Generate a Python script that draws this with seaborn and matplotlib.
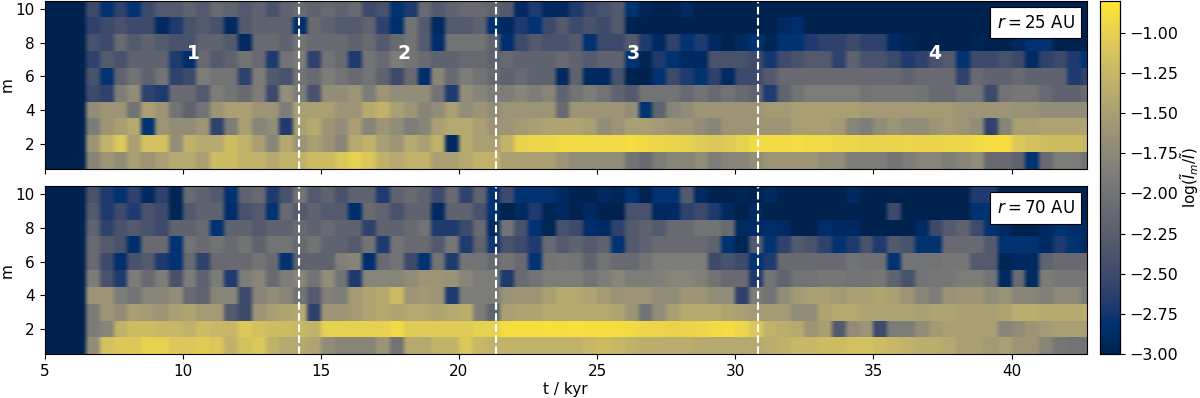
# mode amplitude maps, r=25 AU and r=70 AU
import numpy as np
import pandas as pd
import matplotlib
matplotlib.use("Agg")
import matplotlib.pyplot as plt
import seaborn as sns

t_start = 5.0
dt = 0.5
t_end = 42.73
modes = [1, 2, 3, 4, 5, 6, 7, 8, 9, 10]
x_ticks = [5, 10, 15, 20, 25, 30, 35, 40]
y_ticks = [2, 4, 6, 8, 10]
cbar_ticks = [-1.0, -1.25, -1.5, -1.75, -2.0, -2.25, -2.5, -2.75, -3.0]
phase_times = [14.22, 21.34, 30.82]
phase_labels = ["1", "2", "3", "4"]
phase_label_t = [10.4, 18.0, 26.3, 37.2]

# r = 25 AU, one list per m, 0.5 kyr steps
r25_m1 = [-3,-3,-3,-1.8,-1.6,-1.7,-1.5,-1.6,-1.5,-1.4,
          -1.4,-1.5,-1.2,-1.2,-1.3,-1.3,-1.4,-1.3,-1.3,-1.2,
          -1.2,-1.1,-1.0,-1.1,-1.3,-1.4,-1.3,-1.3,-1.5,-1.5,
          -1.4,-1.3,-1.3,-1.5,-1.5,-1.5,-1.5,-1.6,-1.7,-1.7,
          -1.7,-1.7,-2.0,-2.1,-1.9,-1.8,-1.8,-1.7,-1.9,-1.8,
          -1.8,-1.7,-1.6,-1.6,-1.6,-1.6,-1.7,-1.7,-1.9,-1.9,
          -1.9,-2.0,-1.9,-1.8,-1.8,-1.9,-1.8,-1.7,-2.1,-2.1,
          -2.2,-2.8,-2.1,-1.9,-1.9,-2.0]
r25_m2 = [-3,-3,-3,-1.6,-1.3,-1.1,-1.5,-1.15,-1.15,-1.7,
          -1.3,-1.4,-1.4,-1.2,-1.3,-1.5,-1.8,-1.4,-1.6,-1.5,
          -1.6,-1.8,-1.4,-1.3,-1.5,-1.6,-1.4,-1.5,-1.3,-2.9,
          -1.4,-1.5,-1.5,-1.3,-1.0,-0.95,-0.95,-0.92,-0.92,-0.92,
          -0.92,-0.92,-0.9,-0.93,-0.95,-0.97,-1.0,-1.05,-1.1,-1.05,
          -1.0,-0.92,-0.92,-0.92,-0.9,-0.92,-0.92,-0.95,-0.95,-0.97,
          -0.97,-0.97,-0.95,-0.97,-0.97,-0.95,-0.95,-0.92,-0.9,-0.88,
          -1.1,-1.15,-1.2,-1.2,-1.2,-1.25]
r25_m3 = [-3,-3,-3,-1.9,-1.6,-1.5,-1.4,-2.8,-1.6,-1.7,
          -1.7,-1.6,-2.6,-1.9,-1.5,-1.8,-1.7,-2.7,-1.5,-1.4,
          -1.6,-1.7,-1.5,-1.8,-1.6,-1.7,-1.9,-1.8,-1.5,-1.4,
          -1.4,-1.5,-1.6,-1.6,-1.55,-1.5,-1.45,-1.45,-1.45,-1.5,
          -1.7,-1.6,-1.5,-1.5,-1.55,-1.6,-1.6,-1.7,-1.8,-1.6,
          -1.6,-1.6,-1.6,-1.6,-1.5,-1.5,-1.5,-1.55,-1.8,-1.9,
          -1.7,-1.6,-1.7,-1.7,-1.6,-1.55,-1.6,-1.7,-2.6,-1.8,
          -1.5,-1.5,-1.45,-1.45,-1.45,-1.45]
r25_m4 = [-3,-3,-3,-1.7,-1.6,-1.6,-2.0,-1.5,-1.6,-2.0,
          -2.2,-2.0,-1.6,-1.5,-1.5,-1.6,-1.6,-1.9,-1.5,-1.5,
          -1.5,-1.6,-1.6,-1.4,-1.3,-1.5,-1.6,-1.8,-1.7,-1.5,
          -1.7,-1.6,-1.7,-1.6,-1.6,-1.6,-1.6,-2.1,-1.6,-1.6,
          -1.6,-1.6,-1.7,-2.8,-2.2,-1.8,-1.7,-1.6,-1.6,-1.6,
          -1.6,-1.6,-1.55,-1.55,-1.5,-1.5,-1.5,-1.5,-1.5,-1.55,
          -1.55,-1.55,-1.55,-1.55,-1.55,-1.55,-1.6,-1.6,-1.6,-1.6,
          -1.65,-1.65,-1.7,-1.7,-1.7,-1.7]
r25_m5 = [-3,-3,-3,-2.5,-2.6,-1.9,-1.7,-2.6,-2.7,-2.1,
          -2.1,-2.3,-1.9,-2.0,-2.1,-1.9,-2.5,-1.7,-1.9,-2.4,
          -1.7,-1.7,-1.6,-1.9,-1.6,-1.7,-1.7,-1.7,-2.0,-2.7,
          -1.7,-1.8,-1.9,-1.9,-1.8,-1.9,-1.8,-2.2,-2.0,-1.9,
          -2.0,-2.2,-2.3,-2.0,-2.0,-2.0,-2.1,-2.0,-2.1,-2.0,
          -2.1,-2.2,-2.7,-2.2,-2.0,-1.9,-1.9,-1.9,-1.9,-2.0,
          -1.95,-1.95,-1.95,-2.0,-2.1,-2.1,-2.0,-2.0,-2.5,-2.0,
          -1.95,-1.95,-2.1,-2.2,-2.2,-2.1]
r25_m6 = [-3,-3,-3,-2.4,-2.8,-2.2,-2.0,-2.2,-2.0,-2.6,
          -2.5,-1.9,-2.0,-2.0,-2.6,-1.9,-2.3,-2.4,-2.0,-2.1,
          -1.9,-2.0,-2.1,-2.0,-2.2,-2.5,-2.1,-2.85,-1.8,-2.1,
          -1.9,-2.0,-2.1,-2.2,-2.1,-2.2,-2.2,-2.9,-2.2,-2.9,
          -2.9,-2.4,-3,-3,-2.8,-2.5,-2.7,-2.8,-2.6,-2.9,
          -2.5,-2.5,-2.3,-2.1,-2.1,-2.1,-2.1,-2.1,-2.1,-2.1,
          -2.1,-2.1,-2.2,-2.1,-2.1,-2.1,-2.6,-2.1,-2.2,-2.2,
          -2.1,-2.2,-2.2,-2.2,-2.7,-2.6]
r25_m7 = [-3,-3,-3,-2.6,-2.3,-2.4,-2.2,-2.2,-2.2,-2.7,
          -2.85,-2.1,-2.3,-2.2,-2.0,-2.1,-2.7,-2.0,-1.9,-2.6,
          -2.0,-2.1,-2.7,-2.0,-2.1,-1.9,-2.0,-2.1,-2.2,-2.2,
          -2.1,-2.1,-2.2,-2.1,-2.2,-2.2,-2.2,-2.1,-2.2,-2.3,
          -2.2,-2.2,-2.8,-2.95,-2.7,-2.8,-2.9,-2.9,-2.4,-2.4,
          -2.4,-2.5,-2.75,-2.5,-2.4,-2.3,-2.3,-2.6,-2.2,-2.4,
          -2.4,-2.5,-2.7,-2.6,-2.4,-2.3,-2.8,-2.5,-2.5,-2.4,
          -2.5,-2.9,-2.6,-2.5,-2.7,-2.8]
r25_m8 = [-3,-3,-3,-2.4,-2.5,-2.1,-2.3,-2.2,-2.3,-2.4,
          -2.4,-2.2,-2.2,-2.3,-2.9,-2.1,-2.1,-2.2,-2.0,-2.1,
          -2.1,-2.1,-2.2,-2.1,-2.3,-2.1,-2.0,-2.3,-2.85,-2.0,
          -2.0,-2.0,-2.2,-2.85,-2.5,-2.3,-2.4,-2.4,-2.3,-2.8,
          -2.5,-2.5,-2.3,-2.7,-2.9,-2.6,-2.8,-2.7,-2.9,-3,
          -2.9,-2.8,-2.95,-2.8,-2.8,-2.7,-2.6,-2.6,-2.5,-2.6,
          -2.6,-2.9,-2.95,-3,-3,-3,-3,-2.95,-3,-3,
          -2.9,-2.8,-2.8,-3,-3,-3]
r25_m9 = [-3,-3,-3,-2.6,-2.5,-2.4,-2.5,-2.5,-2.9,-2.7,
          -2.4,-2.3,-2.4,-2.9,-2.3,-2.2,-2.2,-2.2,-2.85,-2.1,
          -2.2,-2.3,-2.3,-2.2,-2.6,-2.85,-2.0,-2.3,-2.9,-2.3,
          -2.3,-2.2,-2.8,-2.9,-2.7,-2.8,-2.5,-2.3,-2.5,-2.4,
          -2.5,-2.3,-3,-3,-3,-3,-3,-3,-3,-3,
          -3,-3,-3,-2.9,-2.85,-3,-3,-3,-3,-3,
          -3,-3,-3,-3,-3,-3,-3,-3,-3,-3,
          -3,-3,-3,-3,-3,-3]
r25_m10 = [-3,-3,-3,-2.5,-2.8,-2.6,-2.8,-2.5,-2.3,-2.3,
           -2.2,-2.3,-2.1,-2.2,-2.3,-2.2,-2.4,-2.2,-2.1,-2.2,
           -2.1,-2.2,-2.1,-2.5,-2.4,-2.8,-2.7,-2.1,-2.3,-2.2,
           -2.1,-2.1,-2.2,-2.3,-2.9,-2.7,-2.9,-2.9,-2.7,-2.5,
           -2.4,-2.3,-2.8,-2.95,-3,-3,-2.9,-3,-3,-3,
           -3,-3,-3,-3,-3,-3,-3,-3,-3,-3,
           -3,-3,-3,-3,-3,-3,-3,-3,-3,-3,
           -3,-3,-3,-3,-3,-3]

# r = 70 AU
r70_m1 = [-3,-3,-3,-1.7,-1.15,-1.1,-1.1,-1.0,-1.0,-1.1,
          -1.1,-1.05,-1.1,-1.3,-1.15,-1.1,-1.3,-1.4,-1.4,-1.45,
          -1.7,-1.8,-1.8,-1.8,-1.6,-2.0,-1.4,-1.4,-1.3,-1.3,
          -1.1,-1.25,-1.3,-1.3,-1.3,-1.3,-1.3,-1.3,-1.3,-1.25,
          -1.2,-1.25,-1.3,-1.35,-1.35,-1.35,-1.35,-1.4,-1.4,-1.4,
          -1.4,-1.4,-1.35,-1.3,-1.25,-1.25,-1.2,-1.2,-1.15,-1.15,
          -1.2,-1.25,-1.3,-1.35,-1.35,-1.4,-1.5,-1.5,-1.55,-1.5,
          -1.6,-1.6,-1.8,-1.95,-2.0,-2.0]
r70_m2 = [-3,-3,-3,-1.9,-1.8,-1.3,-1.2,-1.2,-1.25,-1.25,
          -1.3,-1.2,-1.25,-1.25,-1.1,-1.15,-1.2,-1.2,-1.25,-1.3,
          -1.0,-1.0,-1.0,-1.0,-1.0,-0.92,-1.05,-1.05,-1.05,-1.05,
          -1.05,-1.0,-1.0,-0.9,-0.88,-0.88,-0.87,-0.88,-0.87,-0.88,
          -0.88,-0.9,-0.92,-0.95,-0.95,-0.98,-0.97,-0.95,-0.92,-0.9,
          -0.95,-1.1,-1.3,-1.35,-1.4,-1.6,-1.5,-2.3,-1.7,-1.6,
          -2.5,-1.9,-1.9,-1.7,-1.55,-1.5,-1.5,-1.5,-1.5,-1.8,
          -1.7,-1.6,-1.55,-1.5,-1.5,-1.5]
r70_m3 = [-3,-3,-3,-1.9,-1.6,-1.7,-1.5,-1.55,-1.6,-1.5,
          -1.45,-1.55,-1.55,-2.3,-2.5,-1.6,-1.5,-1.45,-1.4,-2.6,
          -1.6,-1.6,-1.55,-1.45,-1.4,-1.45,-1.4,-1.4,-1.45,-1.4,
          -1.35,-1.9,-2.2,-1.5,-1.45,-1.45,-1.4,-1.4,-1.4,-1.4,
          -1.4,-1.45,-1.6,-2.0,-1.7,-1.5,-1.4,-1.4,-1.4,-1.45,
          -1.5,-1.55,-1.55,-1.55,-1.7,-1.7,-1.45,-1.4,-1.4,-1.45,
          -1.45,-1.45,-1.45,-1.5,-1.45,-1.45,-1.5,-1.5,-1.5,-1.45,
          -1.35,-1.35,-1.4,-1.4,-1.4,-1.35]
r70_m4 = [-3,-3,-3,-1.6,-1.6,-1.9,-2.0,-1.8,-1.8,-1.7,
          -2.1,-2.2,-1.8,-1.8,-2.5,-1.8,-1.7,-1.8,-2.0,-2.3,
          -1.85,-1.9,-1.55,-1.45,-1.4,-1.2,-1.6,-1.55,-1.6,-2.7,
          -1.9,-1.9,-1.9,-1.65,-1.6,-1.6,-1.5,-1.4,-1.4,-1.45,
          -1.55,-1.65,-1.6,-1.6,-1.7,-1.7,-1.6,-1.6,-1.7,-1.7,
          -2.6,-1.9,-2.0,-1.7,-1.55,-1.5,-1.5,-1.55,-1.5,-1.5,
          -1.45,-1.5,-1.6,-1.8,-1.9,-1.65,-1.6,-1.6,-1.7,-1.65,
          -1.8,-1.8,-1.85,-1.75,-1.75,-1.9]
r70_m5 = [-3,-3,-3,-1.9,-2.4,-2.7,-1.9,-2.1,-1.9,-2.4,
          -1.9,-2.2,-1.9,-2.7,-1.9,-1.8,-2.1,-1.9,-1.8,-2.0,
          -1.7,-2.0,-2.7,-1.8,-1.8,-1.8,-1.7,-1.6,-1.6,-1.65,
          -1.8,-1.9,-1.9,-2.7,-2.1,-2.0,-1.9,-1.9,-1.9,-2.0,
          -1.9,-1.8,-1.9,-1.9,-1.85,-1.8,-1.8,-1.85,-2.0,-2.1,
          -2.1,-2.7,-2.0,-2.2,-2.0,-2.0,-1.95,-1.95,-2.0,-2.0,
          -1.95,-2.2,-2.4,-2.0,-1.95,-1.95,-1.9,-1.9,-2.0,-2.9,
          -2.1,-2.9,-1.9,-1.95,-1.95,-1.95]
r70_m6 = [-3,-3,-3,-2.1,-2.5,-2.85,-2.4,-2.3,-2.7,-2.8,
          -2.1,-2.6,-2.1,-2.1,-2.1,-2.0,-2.1,-2.8,-2.2,-2.2,
          -2.2,-1.85,-1.8,-2.85,-2.1,-2.0,-2.5,-2.8,-2.0,-2.7,
          -2.0,-2.0,-2.1,-2.0,-2.1,-2.8,-2.0,-1.95,-2.0,-2.2,
          -2.0,-2.1,-2.1,-2.0,-1.9,-1.9,-1.9,-1.9,-2.5,-2.4,
          -2.5,-2.8,-2.7,-2.1,-2.1,-2.1,-2.1,-2.1,-2.0,-2.05,
          -2.05,-2.8,-2.0,-2.0,-2.0,-1.95,-1.95,-2.3,-2.3,-2.95,
          -2.9,-2.9,-2.2,-2.1,-2.1,-2.1]
r70_m7 = [-3,-3,-3,-2.1,-2.3,-2.4,-2.85,-2.1,-2.1,-2.8,
          -2.0,-2.1,-2.0,-2.1,-2.0,-2.2,-2.0,-2.0,-2.1,-2.0,
          -2.2,-2.2,-2.3,-2.0,-2.7,-2.0,-2.1,-2.1,-2.3,-1.95,
          -2.7,-2.2,-2.75,-2.4,-2.5,-2.7,-2.1,-2.3,-2.2,-2.3,
          -2.2,-2.8,-2.3,-2.2,-2.1,-2.1,-2.1,-2.1,-2.2,-2.8,
          -2.95,-2.3,-2.8,-2.6,-2.3,-2.4,-2.6,-2.8,-2.7,-2.4,
          -2.7,-2.3,-2.4,-2.8,-2.8,-2.1,-2.1,-2.1,-2.3,-2.8,
          -2.8,-2.8,-2.9,-2.7,-2.8,-2.9]
r70_m8 = [-3,-3,-3,-2.2,-2.6,-2.4,-2.3,-2.4,-2.5,-2.2,
          -2.2,-2.1,-2.8,-2.2,-2.2,-2.3,-2.2,-2.2,-2.1,-2.2,
          -2.1,-2.2,-2.2,-2.6,-2.2,-2.2,-2.1,-2.0,-2.7,-2.7,
          -2.5,-2.1,-2.9,-2.0,-2.4,-2.8,-2.95,-2.4,-2.5,-2.85,
          -2.9,-2.6,-2.3,-2.2,-2.3,-2.1,-2.1,-2.0,-2.0,-2.1,
          -2.9,-2.9,-2.85,-2.9,-3,-3,-2.85,-2.9,-2.9,-3,
          -3,-3,-3,-2.9,-2.5,-2.3,-2.2,-2.5,-2.8,-2.9,
          -3,-3,-2.9,-2.8,-2.85,-2.9]
r70_m9 = [-3,-3,-3,-2.3,-2.7,-2.5,-2.7,-2.4,-2.5,-2.95,
          -2.3,-2.2,-2.2,-2.85,-2.4,-2.3,-2.8,-2.1,-2.3,-2.2,
          -2.3,-2.3,-2.85,-2.1,-2.2,-2.4,-2.2,-2.2,-2.9,-2.2,
          -2.2,-2.4,-2.8,-3,-2.9,-2.7,-2.95,-2.9,-3,-2.9,
          -3,-3,-2.4,-2.4,-2.9,-2.9,-2.6,-2.5,-2.7,-2.9,
          -3,-2.9,-3,-3,-3,-3,-3,-3,-3,-3,
          -3,-2.5,-3,-3,-3,-3,-3,-2.8,-2.8,-3,
          -3,-3,-3,-3,-3,-3]
r70_m10 = [-3,-3,-3,-2.4,-2.7,-2.8,-2.6,-2.9,-2.6,-2.95,
           -2.1,-2.2,-2.3,-2.8,-2.2,-2.1,-2.7,-2.4,-2.0,-2.3,
           -2.2,-2.4,-2.2,-2.2,-2.7,-2.2,-2.1,-2.2,-2.5,-2.1,
           -2.6,-2.2,-2.8,-2.5,-2.8,-2.8,-2.8,-2.9,-3,-3,
           -2.9,-2.95,-2.8,-3,-2.8,-2.8,-2.3,-2.9,-3,-3,
           -2.95,-3,-2.9,-3,-3,-3,-3,-3,-2.9,-3,
           -3,-3,-3,-3,-3,-3,-3,-2.7,-2.7,-3,
           -3,-3,-3,-3,-3,-3]

r25 = [r25_m1, r25_m2, r25_m3, r25_m4, r25_m5, r25_m6, r25_m7, r25_m8, r25_m9, r25_m10]
r70 = [r70_m1, r70_m2, r70_m3, r70_m4, r70_m5, r70_m6, r70_m7, r70_m8, r70_m9, r70_m10]

t_axis = [t_start + dt * i for i in range(len(r25_m1))]


def to_x(t):
    # heatmap cells run on index positions, not kyr
    return (t - t_start) / dt


def soften(img, dpi):
    # the original map is smoothed along time only
    kernel = np.array([1, 2, 3, 3, 3, 2, 1], dtype=float)
    kernel /= kernel.sum()
    pad = len(kernel) // 2
    padded = np.pad(img, ((0, 0), (pad, pad), (0, 0)), mode="edge")
    out = np.apply_along_axis(lambda c: np.convolve(c, kernel, mode="valid"), 1, padded)
    return out, 0, 0


W, H = 1200, 398
fig = plt.figure(figsize=(W / 100, H / 100), dpi=100)
ax1 = fig.add_axes([44.5 / W, 1 - 169 / H, 1042.5 / W, 168.5 / H])
ax2 = fig.add_axes([44.5 / W, 1 - 354.3 / H, 1042.5 / W, 168.3 / H])
cax = fig.add_axes([1099.5 / W, 1 - 354.3 / H, 20.5 / W, 353.8 / H])

for ax, rows, name in [(ax1, r25, "$r = 25$ AU"), (ax2, r70, "$r = 70$ AU")]:
    df = pd.DataFrame(rows, index=modes, columns=t_axis)
    sns.heatmap(df, ax=ax, cmap="cividis", vmin=-3, vmax=-0.8, cbar=ax is ax1,
                cbar_ax=cax if ax is ax1 else None,
                xticklabels=False, yticklabels=False, linewidths=0)
    ax.collections[0].set_agg_filter(soften)
    ax.set_xlim(0, to_x(t_end))
    ax.set_ylim(0, 10)
    ax.set_xticks([to_x(t) for t in x_ticks])
    ax.set_yticks([m - 0.5 for m in y_ticks])
    ax.set_yticklabels(y_ticks, rotation=0)
    ax.tick_params(labelsize=11, length=3.5, width=0.8)
    ax.set_ylabel("m", fontsize=11, va="center")
    ax.yaxis.set_label_coords(-0.0355, 0.5)
    ax.set_xlabel("")
    for s in ax.spines.values():
        s.set_visible(True)
        s.set_linewidth(0.8)
    for t in phase_times:
        ax.axvline(to_x(t), color="white", ls="--", lw=1.5)
    ax.text(0.951, 0.869, name, transform=ax.transAxes, ha="center", va="center", fontsize=12,
            bbox=dict(boxstyle="square,pad=0.4", fc="white", ec="black", lw=0.8))

ax1.set_xticklabels([])
ax2.set_xticklabels(x_ticks)
ax2.set_xlabel("t / kyr", fontsize=11)
ax2.xaxis.set_label_coords(0.5, -0.165)

for lab, t in zip(phase_labels, phase_label_t):
    ax1.text(to_x(t), 6.85, lab, color="white", fontweight="bold", fontsize=13.5, ha="center", va="center")

cax.set_yticks(cbar_ticks)
cax.set_yticklabels([f"\u2212{abs(v):.2f}" for v in cbar_ticks])
cax.tick_params(labelsize=11.5, length=3.5, width=0.8)
cax.set_ylabel(r"$\log(\tilde{I}_m/\tilde{I})$", fontsize=11, va="center")
cax.yaxis.set_label_coords(4.4, 0.5)
for s in cax.spines.values():
    s.set_visible(True)
    s.set_linewidth(0.8)

fig.savefig("out.png", dpi=100)
